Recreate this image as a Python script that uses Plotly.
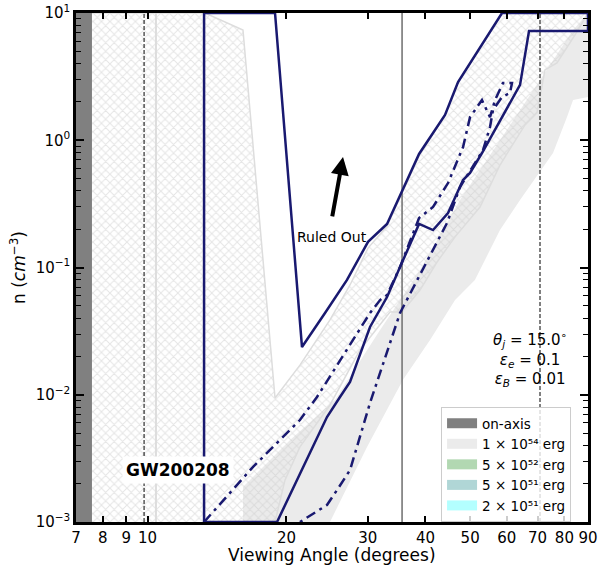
import math
import plotly.graph_objects as go

# ---------------- data (viewing angle in degrees, density in cm^-3) ----------------
onaxis_x = [7.0, 7.58, 7.58, 7.0]
onaxis_y = [0.001, 0.001, 10.0, 10.0]

# 1e54 erg ruled-out region (solid light grey)
e54_x = [16.10, 16.10, 20.36, 25.48, 31.90, 38.94, 47.54, 58.02, 70.84, 83.54, 90.0,
         90.0, 83.54, 81.05, 75.59, 64.12, 58.02, 51.2, 46.37, 40.93, 35.77, 29.89, 24.85]
e54_y = [0.001, 0.00188, 0.00441, 0.0091, 0.0323, 0.0955, 0.339, 1.00, 2.98, 7.35, 10.0,
         2.19, 2.07, 1.52, 0.794, 0.339, 0.197, 0.0798, 0.0555, 0.0269, 0.0131, 0.00389, 0.001]

# hatched region
hatch_x = [7.0, 7.0, 13.32, 16.10, 18.89, 21.39, 24.85, 27.46, 30.04, 33.03, 38.75, 44.11,
           47.07, 58.61, 90.0, 84.37, 77.10, 72.62, 69.79, 65.73, 58.02, 52.52, 46.37, 42.39,
           38.94, 35.59, 33.52, 28.86, 24.85, 21.39, 19.86, 18.89]
hatch_y = [0.001, 10.0, 10.0, 7.35, 0.00943, 0.0171, 0.0387, 0.0729, 0.142, 0.212, 0.752, 1.579,
           2.87, 10.0, 10.0, 6.72, 4.05, 3.57, 1.64, 1.32, 0.639, 0.299, 0.174, 0.1104,
           0.0665, 0.0447, 0.0447, 0.0225, 0.00831, 0.00389, 0.00214, 0.001]

# solid contour
solid_x = [13.26, 13.26, 18.89, 21.61, 24.24, 27.05, 30.04, 33.03, 38.75, 44.11, 47.07, 58.61,
           90.0, 90.0, 67.06, 64.12, 53.04, 49.97, 48.26, 44.77, 41.55, 38.75, 35.24, 33.03,
           30.34, 27.46, 26.12, 24.48, 19.08, 13.26]
solid_y = [0.001, 10.0, 10.0, 0.0237, 0.0439, 0.0798, 0.159, 0.220, 0.780, 1.579, 2.87, 10.0,
           10.0, 7.22, 7.22, 2.72, 0.794, 0.553, 0.487, 0.268, 0.197, 0.220, 0.1009, 0.0586,
           0.0341, 0.0126, 0.0096, 0.00668, 0.001, 0.001]

# dash-dot contour
dd_x = [13.26, 16.93, 21.39, 23.29, 30.34, 31.90, 33.03, 35.24, 38.75, 41.55, 44.77, 48.26,
        49.97, 53.04, 55.21, 56.60, 58.89, 61.60, 60.99, 58.61, 56.04, 55.21, 53.31, 47.54,
        44.55, 40.93, 38.36, 35.24, 30.34, 27.46, 25.73, 24.48, 21.39]
dd_y = [0.001, 0.00271, 0.00633, 0.0096, 0.0439, 0.0555, 0.0608, 0.1009, 0.245, 0.299, 0.461,
        0.885, 1.52, 2.07, 1.52, 2.07, 2.82, 2.82, 2.35, 2.19, 1.73, 1.27, 0.838, 0.429,
        0.224, 0.125, 0.0798, 0.0439, 0.00861, 0.00256, 0.00178, 0.00136, 0.001]

angle_lo, angle_mid, angle_hi = 9.83, 35.6, 70.84
grey_edge_angle = 10.43
y_span = [0.001, 10.0]

legend_labels = ["on-axis", "1 × 10⁵⁴ erg", "5 × 10⁵² erg", "5 × 10⁵¹ erg", "2 × 10⁵¹ erg"]
legend_colors = ["#808080", "#ebebeb", "#b2d8b2", "#b0d6d6", "#b3ffff"]

x_ticks = [7, 8, 9, 10, 20, 30, 40, 50, 60, 70, 80, 90]
y_ticks = [0.001, 0.01, 0.1, 1, 10]
y_ticktext = ["10<sup>−3</sup>", "10<sup>−2</sup>", "10<sup>−1</sup>", "10<sup>0</sup>", "10<sup>1</sup>"]
y_minor = [m * 10 ** e for e in range(-3, 1) for m in range(2, 10)]

arrow_tail = (25.10, 0.245)
arrow_tip = (26.52, 0.739)
ruled_pos = (25.10, 0.174)
gw_pos = (11.64, 0.00256)
param_pos = (67.4, 0.0191)

NAVY = "#191970"
FONT = "DejaVu Sans"

fig = go.Figure()

fig.add_trace(go.Scatter(x=e54_x, y=e54_y, fill="toself", mode="none",
                         fillcolor=legend_colors[1], showlegend=False))
fig.add_trace(go.Scatter(x=hatch_x, y=hatch_y, fill="toself", mode="lines",
                         line=dict(color="#dddddd", width=1.5),
                         fillcolor="rgba(255,255,255,0)",
                         fillpattern=dict(shape="x", size=6, solidity=0.3,
                                          fgcolor="#cbcbcb", bgcolor="rgba(255,255,255,0)"),
                         showlegend=False))
fig.add_trace(go.Scatter(x=[grey_edge_angle] * 2, y=y_span, mode="lines",
                         line=dict(color="#dddddd", width=2), showlegend=False))
fig.add_trace(go.Scatter(x=onaxis_x, y=onaxis_y, fill="toself", mode="none",
                         fillcolor=legend_colors[0], showlegend=False))
fig.add_trace(go.Scatter(x=[angle_lo] * 2, y=y_span, mode="lines",
                         line=dict(color="black", width=1, dash="4px,2px"), showlegend=False))
fig.add_trace(go.Scatter(x=[angle_hi] * 2, y=y_span, mode="lines",
                         line=dict(color="black", width=1, dash="4px,2px"), showlegend=False))
fig.add_trace(go.Scatter(x=[angle_mid] * 2, y=y_span, mode="lines",
                         line=dict(color="#6e6e6e", width=1.5), showlegend=False))
fig.add_trace(go.Scatter(x=solid_x, y=solid_y, mode="lines",
                         line=dict(color=NAVY, width=2.5), showlegend=False))
fig.add_trace(go.Scatter(x=dd_x, y=dd_y, mode="lines",
                         line=dict(color=NAVY, width=2.5, dash="10px,5px,3px,5px"),
                         showlegend=False))
# legend entries (patches drawn as wide strokes)
for i in range(5):
    fig.add_trace(go.Scatter(x=[None], y=[None], mode="lines",
                             line=dict(color=legend_colors[i], width=10),
                             name=legend_labels[i], legendrank=i + 1))

L = math.log10
fig.add_annotation(x=L(arrow_tip[0]), y=L(arrow_tip[1]), ax=L(arrow_tail[0]), ay=L(arrow_tail[1]),
                   axref="x", ayref="y", xref="x", yref="y", showarrow=True,
                   arrowhead=2, arrowsize=0.9, arrowwidth=4, arrowcolor="black", text="")
fig.add_annotation(x=L(ruled_pos[0]), y=L(ruled_pos[1]), text="Ruled Out", showarrow=False,
                   font=dict(size=14, color="black", family=FONT))
fig.add_annotation(x=L(gw_pos[0]), y=L(gw_pos[1]), text="<b>GW200208</b>", showarrow=False,
                   font=dict(size=17, color="black", family=FONT), bgcolor="white", borderpad=3)
fig.add_annotation(x=L(param_pos[0]), y=L(param_pos[1]),
                   text="<i>θ</i><sub><i>j</i></sub> = 15.0<sup>∘</sup><br>"
                        "<i>ε</i><sub><i>e</i></sub> = 0.1<br>"
                        "<i>ε</i><sub><i>B</i></sub> = 0.01",
                   showarrow=False, align="center",
                   font=dict(size=15, color="black", family=FONT))
# x-axis title
fig.add_annotation(x=0.5, y=-0.064, xref="paper", yref="paper", text="Viewing Angle (degrees)",
                   showarrow=False, yanchor="middle",
                   font=dict(size=17, color="black", family=FONT))

axis_common = dict(showline=True, linewidth=2.5, linecolor="black", mirror="allticks",
                   ticks="inside", tickcolor="black", tickwidth=1.5, showgrid=False,
                   zeroline=False, automargin=False,
                   tickfont=dict(size=15, color="black", family=FONT))

fig.update_xaxes(type="log", range=[L(7), L(90)], tickmode="array", tickvals=x_ticks,
                 ticktext=[str(v) for v in x_ticks], ticklen=6,
                 **axis_common)
fig.update_yaxes(type="log", range=[-3, 1], tickmode="array", tickvals=y_ticks, ticktext=y_ticktext,
                 ticklen=8,
                 minor=dict(ticks="inside", tickvals=y_minor, ticklen=5, tickwidth=1.2, tickcolor="black"),
                 title=dict(text="n (<i>cm</i><sup>−3</sup>)", font=dict(size=17, color="black", family=FONT),
                            standoff=6),
                 **axis_common)

fig.update_layout(width=600, height=573, margin=dict(l=76, r=12, t=13, b=51),
                  plot_bgcolor="white", paper_bgcolor="white",
                  font=dict(family=FONT, color="black"),
                  legend=dict(x=0.713, y=0.226, xanchor="left", yanchor="top",
                              bgcolor="rgba(255,255,255,0.8)", bordercolor="#cccccc", borderwidth=1,
                              font=dict(size=13.5, family=FONT, color="black"),
                              tracegroupgap=0, itemwidth=30))

fig.write_html("out.html", config={"displayModeBar": False},
               post_script="document.body.style.margin='0';document.body.style.overflow='hidden';")
